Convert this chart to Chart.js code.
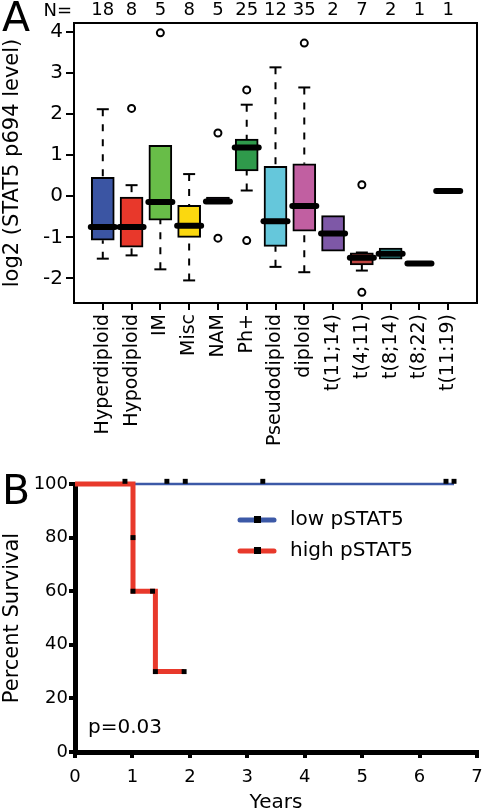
<!DOCTYPE html>
<html lang="en">
<head>
<meta charset="UTF-8">
<title>pSTAT5 levels and survival</title>
<script src="https://cdn.jsdelivr.net/npm/chart.js"></script>
<style>
  body { margin: 0; background: #fff; }
  #wrap { position: relative; width: 483px; height: 810px; overflow: hidden; }
  canvas { position: absolute; left: 0; }
  .letter { position: absolute; left: 2px; font: 41px 'DejaVu Sans', sans-serif; line-height: 1; color: #000; }
</style>
</head>
<body>
<div id="wrap">
  <canvas id="boxChart" width="483" height="470" style="top:0"></canvas>
  <canvas id="kmChart" width="483" height="340" style="top:470px"></canvas>
  <div class="letter" style="top:-3px">A</div>
  <div class="letter" style="top:470px">B</div>
</div>
<script>
// panel A: pSTAT5 by cytogenetic group
const groups = ['Hyperdiploid', 'Hypodiploid', 'IM', 'Misc', 'NAM', 'Ph+', 'Pseudodiploid', 'diploid',
  't(11;14)', 't(4;11)', 't(8;14)', 't(8;22)', 't(11:19)'];
const counts = [18, 8, 5, 8, 5, 25, 12, 35, 2, 7, 2, 1, 1];
const q1 = [-1.07, -1.24, -0.58, -1.0, -0.14, 0.62, -1.22, -0.85, -1.34, -1.67, -1.53, -1.64, 0.13];
const q3 = [0.46, -0.02, 1.24, -0.22, -0.02, 1.39, 0.73, 0.79, -0.47, -1.38, -1.26, -1.64, 0.13];
const medians = [-0.75, -0.75, -0.14, -0.72, -0.13, 1.19, -0.61, -0.24, -0.91, -1.5, -1.4, -1.64, 0.13];
const whiskLo = [-1.52, -1.44, -1.78, -2.05, null, 0.14, -1.72, -1.85, null, -1.81, null, null, null];
const whiskHi = [2.12, 0.27, null, 0.54, null, 2.23, 3.14, 2.65, null, -1.37, null, null, null];
const outliers = [[], [2.14], [3.98], [], [1.54, -1.02], [2.59, -1.08], [], [3.73], [], [0.28, -2.34], [], [], []];
const boxColors = ['#3b55a3', '#e8382b', '#68bd48', '#fbd80f', '#5c2d70', '#2f9a4b', '#65c7db', '#c15fa1',
  '#7e58a7', '#bf4440', '#3aaeae', '#000000', '#000000'];
const yTicksA = [-2, -1, 0, 1, 2, 3, 4];

// panel B: survival
const lowTimes = [0, 6.6];
const lowSurv = [100, 100];
const lowCensorT = [0.87, 1.6, 1.92, 3.27, 6.46, 6.6];
const lowCensorS = [101, 101, 101, 101, 101, 101];
const highTimes = [0, 1.01, 1.4, 1.9];
const highSurv = [100, 60, 30, 30];
const highCensorT = [1.01, 1.01, 1.35, 1.4, 1.9];
const highCensorS = [80, 60, 60, 30, 30];

Chart.defaults.font.family = "'DejaVu Sans', sans-serif";
Chart.defaults.color = '#000';
Chart.defaults.animation = false;

const boxIdx = groups.map((g, i) => i).filter(i => q1[i] !== q3[i]);
const outlierPts = [];
outliers.forEach((arr, i) => arr.forEach(v => outlierPts.push({x: i + 1, y: v})));
const catTicks = s => { s.ticks = groups.map((g, i) => ({value: i + 1})); };

const boxExtras = {
  id: 'boxExtras',
  afterDatasetsDraw(chart) {
    const {ctx, scales: {x, y}} = chart;
    ctx.save();
    ctx.strokeStyle = '#000';
    groups.forEach((g, i) => {
      const cx = x.getPixelForValue(i + 1);
      ctx.lineWidth = 2;
      [[whiskHi[i], q3[i]], [whiskLo[i], q1[i]]].forEach(([w, edge]) => {
        if (w === null) return;
        const wy = y.getPixelForValue(w), ey = y.getPixelForValue(edge);
        ctx.setLineDash([7, 8]);
        ctx.beginPath(); ctx.moveTo(cx, wy); ctx.lineTo(cx, ey); ctx.stroke();
        ctx.setLineDash([]);
        ctx.beginPath(); ctx.moveTo(cx - 6, wy); ctx.lineTo(cx + 6, wy); ctx.stroke();
      });
      const my = y.getPixelForValue(medians[i]);
      ctx.lineWidth = 6;
      ctx.lineCap = 'round';
      ctx.beginPath(); ctx.moveTo(cx - 12, my); ctx.lineTo(cx + 12, my); ctx.stroke();
      ctx.lineCap = 'butt';
    });
    ctx.restore();
  },
  afterDraw(chart) {
    const {ctx, chartArea: a} = chart;
    ctx.save();
    ctx.strokeStyle = '#000';
    ctx.lineWidth = 2;
    ctx.strokeRect(a.left, a.top, a.right - a.left, a.bottom - a.top);
    ctx.font = "18px 'DejaVu Sans', sans-serif";
    ctx.fillStyle = '#000';
    ctx.textAlign = 'right';
    ctx.textBaseline = 'middle';
    ctx.fillText('N=', 72, 11);
    ctx.restore();
  }
};

new Chart(document.getElementById('boxChart'), {
  type: 'bar',
  data: {
    datasets: [{
      type: 'bar',
      data: boxIdx.map(i => ({x: i + 1, y: [q1[i], q3[i]]})),
      backgroundColor: boxIdx.map(i => boxColors[i]),
      borderColor: '#000',
      borderWidth: 2,
      borderSkipped: false,
      barThickness: 23
    }, {
      type: 'scatter',
      data: outlierPts,
      pointStyle: 'circle',
      pointRadius: 3.5,
      pointBackgroundColor: '#fff',
      pointBorderColor: '#000',
      pointBorderWidth: 2
    }]
  },
  options: {
    responsive: false,
    layout: {padding: {left: 0, right: 6, top: 0, bottom: 0}},
    plugins: {legend: {display: false}, tooltip: {enabled: false}},
    scales: {
      x: {
        type: 'linear', min: 0, max: 14, offset: false,
        afterBuildTicks: catTicks,
        afterFit: s => { s.height = 167; },
        ticks: {autoSkip: false, minRotation: 90, maxRotation: 90, padding: 4,
          font: {size: 19}, callback: v => groups[v - 1]},
        grid: {drawOnChartArea: false, offset: false, color: '#000', lineWidth: 2, tickLength: 7},
        border: {display: false}
      },
      x2: {
        type: 'linear', position: 'top', min: 0, max: 14, offset: false,
        afterBuildTicks: catTicks,
        afterFit: s => { s.height = 23; },
        ticks: {autoSkip: false, maxRotation: 0, padding: 2, font: {size: 18}, callback: v => counts[v - 1]},
        grid: {display: false, drawTicks: false},
        border: {display: false}
      },
      y: {
        min: -2.6, max: 4.22,
        afterBuildTicks: s => { s.ticks = yTicksA.map(v => ({value: v})); },
        afterFit: s => { s.width = 74; },
        ticks: {padding: 3, font: {size: 20}, callback: v => String(v)},
        grid: {drawOnChartArea: false, color: '#000', lineWidth: 2, tickLength: 8},
        border: {display: false},
        title: {display: true, text: 'log2 (STAT5 p694 level)', font: {size: 21}, padding: 0}
      }
    }
  },
  plugins: [boxExtras]
});

const kmExtras = {
  id: 'kmExtras',
  afterDraw(chart) {
    const {ctx} = chart;
    ctx.save();
    ctx.font = "20px 'DejaVu Sans', sans-serif";
    ctx.textBaseline = 'middle';
    ctx.fillStyle = '#000';
    [0, 1].forEach((d, k) => {
      const ds = chart.data.datasets[d];
      const ly = 50 + k * 31;
      ctx.strokeStyle = ds.borderColor;
      ctx.lineWidth = 5;
      ctx.lineCap = 'round';
      ctx.beginPath(); ctx.moveTo(240, ly); ctx.lineTo(274, ly); ctx.stroke();
      ctx.fillRect(254, ly - 4, 7, 7);
      ctx.fillText(ds.label, 290, ly);
    });
    ctx.fillText('p=0.03', 88, 258);
    ctx.restore();
  }
};

new Chart(document.getElementById('kmChart'), {
  type: 'line',
  data: {
    datasets: [{
      label: 'low pSTAT5',
      data: lowTimes.map((t, i) => ({x: t, y: lowSurv[i]})),
      borderColor: '#3c59a7', borderWidth: 2.5, pointRadius: 0, stepped: true, order: 2
    }, {
      label: 'high pSTAT5',
      data: highTimes.map((t, i) => ({x: t, y: highSurv[i]})),
      borderColor: '#e8392b', borderWidth: 5, pointRadius: 0, stepped: true, order: 1
    }, {
      type: 'scatter',
      data: lowCensorT.map((t, i) => ({x: t, y: lowCensorS[i]})),
      pointStyle: 'rect', pointRadius: 3.5, pointBackgroundColor: '#000', pointBorderWidth: 0, order: 0
    }, {
      type: 'scatter',
      data: highCensorT.map((t, i) => ({x: t, y: highCensorS[i]})),
      pointStyle: 'rect', pointRadius: 3.5, pointBackgroundColor: '#000', pointBorderWidth: 0, order: 0
    }]
  },
  options: {
    responsive: false,
    clip: false,
    layout: {padding: {left: 0, right: 6, top: 14, bottom: 0}},
    plugins: {legend: {display: false}, tooltip: {enabled: false}},
    scales: {
      x: {
        type: 'linear', min: 0, max: 7,
        afterFit: s => { s.height = 58; s.paddingRight = 0; },
        ticks: {stepSize: 1, padding: 9, font: {size: 18}},
        grid: {drawOnChartArea: false, color: '#000', lineWidth: 4, tickLength: 6},
        border: {color: '#000', width: 5},
        title: {display: true, text: 'Years', font: {size: 20}, padding: {top: 0, bottom: -5}}
      },
      y: {
        min: 0, max: 100,
        afterFit: s => { s.width = 75; },
        ticks: {stepSize: 20, padding: 1, font: {size: 18}},
        grid: {drawOnChartArea: false, color: '#000', lineWidth: 4, tickLength: 6},
        border: {color: '#000', width: 5},
        title: {display: true, text: 'Percent Survival', font: {size: 21}, padding: 0}
      }
    }
  },
  plugins: [kmExtras]
});
</script>
</body>
</html>
